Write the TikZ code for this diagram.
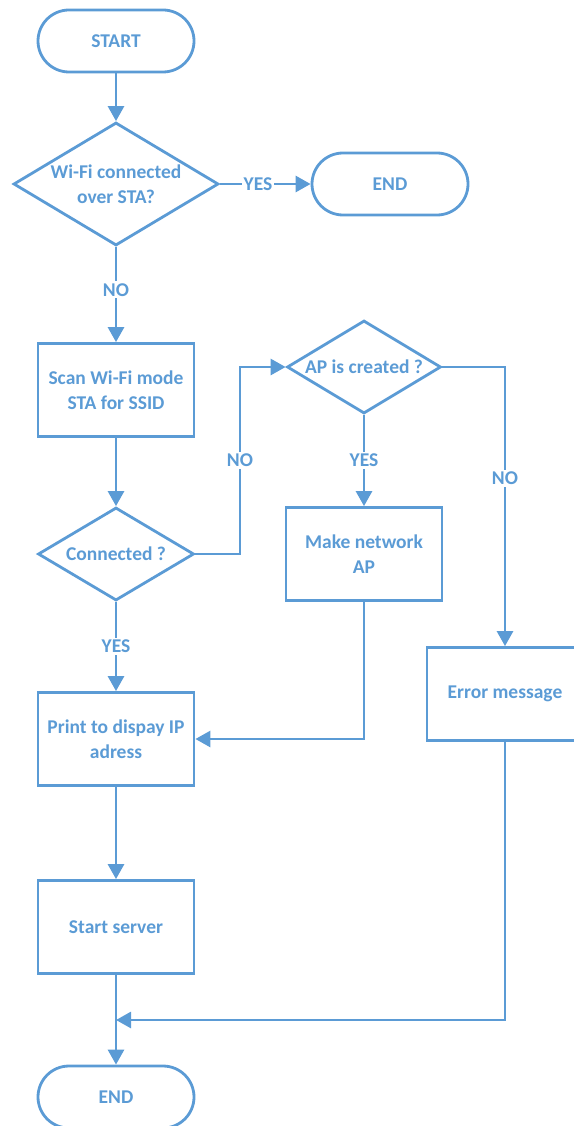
\documentclass[tikz,border=0pt]{standalone}
\usepackage{fontspec}
\setmainfont{Carlito}
\usepackage{xcolor}
\usetikzlibrary{shapes.geometric,arrows.meta,positioning,calc}
\definecolor{flowblue}{HTML}{5B9BD5}

\begin{document}
\begin{tikzpicture}[x=1pt, y=-1pt,
  font=\bfseries\fontsize{19.5}{25}\selectfont,
  term/.style={rectangle, rounded corners=31pt, draw=flowblue, line width=2.8pt,
    text=flowblue, minimum width=156pt, minimum height=62pt},
  proc/.style={rectangle, draw=flowblue, line width=2.8pt, text=flowblue,
    align=center, minimum width=156pt, minimum height=93pt},
  decision/.style={diamond, draw=flowblue, line width=2.8pt, inner sep=0pt},
  lbl/.style={fill=white, text=flowblue, inner sep=2pt},
  arrow/.style={draw=flowblue, line width=2.8pt, -{Triangle[length=15pt,width=16pt]}},
]
\useasboundingbox (0,0) rectangle (573,1126);
\node[term] (start) at (116,41) {START};
\node[decision, minimum width=205pt, minimum height=123pt,
  label={[align=center, text=flowblue]center:Wi-Fi connected\\over STA?}] (wifi) at (116,184) {};
\node[term] (end1) at (390,184) {END};
\node[proc] (scan) at (116,390) {Scan Wi-Fi mode\\STA for SSID};
\node[decision, minimum width=156pt, minimum height=93pt,
  label={[text=flowblue]center:Connected ?}] (conn) at (116,554) {};
\node[decision, minimum width=154pt, minimum height=93pt,
  label={[text=flowblue]center:AP is created ?}] (ap) at (364,367) {};
\node[proc] (mkap) at (364,554) {Make network\\AP};
\node[proc] (err) at (505,694) {Error message};
\node[proc] (print) at (116,739) {Print to dispay IP\\adress};
\node[proc] (serv) at (116,927) {Start server};
\node[term] (end2) at (116,1097) {END};
\coordinate (bend) at (240,554);
\coordinate (join) at (116,1020);
\draw[arrow] (start) -- (wifi);
\draw[arrow] (wifi) -- node[lbl, pos=0.42]{YES} (end1);
\draw[arrow] (wifi) -- node[lbl, pos=0.45]{NO} (scan);
\draw[arrow] (scan) -- (conn);
\draw[arrow] (conn.east) -- (bend) |- node[lbl, pos=0.25]{NO} (ap.west);
\draw[arrow] (ap) -- node[lbl]{YES} (mkap);
\draw[arrow] (ap.east) -| node[lbl, pos=0.7]{NO} (err.north);
\draw[arrow] (conn) -- node[lbl]{YES} (print);
\draw[arrow] (mkap.south) |- (print.east);
\draw[arrow] (print) -- (serv);
\draw[arrow] (serv) -- (end2);
\draw[arrow] (err.south) |- (join);
\end{tikzpicture}
\end{document}
